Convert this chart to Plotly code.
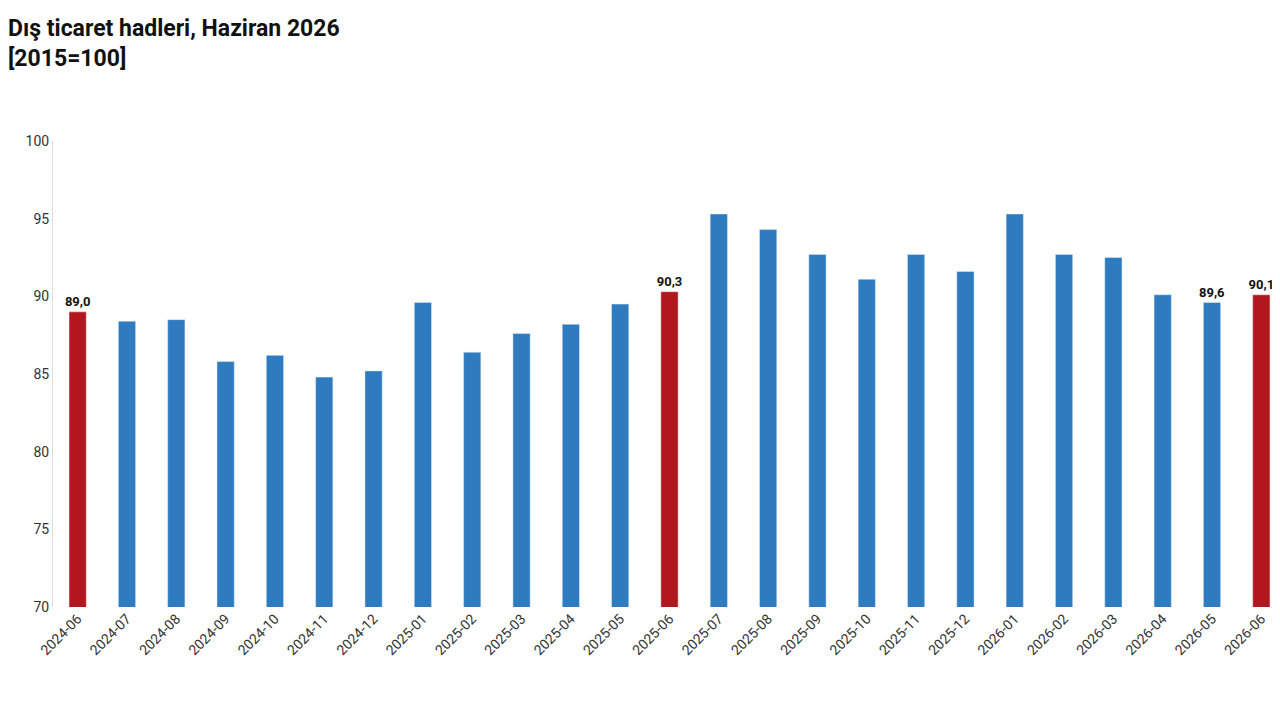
import plotly.graph_objects as go

months = ["2024-06","2024-07","2024-08","2024-09","2024-10","2024-11","2024-12",
          "2025-01","2025-02","2025-03","2025-04","2025-05","2025-06","2025-07",
          "2025-08","2025-09","2025-10","2025-11","2025-12","2026-01","2026-02",
          "2026-03","2026-04","2026-05","2026-06"]
values = [89.0,88.4,88.5,85.8,86.2,84.8,85.2,89.6,86.4,87.6,88.2,89.5,90.3,95.3,
          94.3,92.7,91.1,92.7,91.6,95.3,92.7,92.5,90.1,89.6,90.1]
highlight = {"2024-06","2025-06","2026-06"}
labeled = {"2024-06","2025-06","2026-05","2026-06"}

colors = ["#B0181E" if m in highlight else "#2E7BBF" for m in months]
texts = [f"{v:.1f}".replace(".", ",") if m in labeled else "" for m, v in zip(months, values)]

fig = go.Figure(go.Bar(x=months, y=values, marker_color=colors, text=texts,
                       textposition="outside", cliponaxis=False, constraintext="none",
                       texttemplate="<b>%{text}</b>",
                       textfont=dict(family="Roboto", size=13, color="#111")))
fig.update_layout(
    width=1280, height=720, plot_bgcolor="white", paper_bgcolor="white",
    margin=dict(l=45, r=2, t=133, b=121), bargap=0.65, showlegend=False,
    font=dict(family="Roboto", color="#333"),
    annotations=[dict(text="<b>Dış ticaret hadleri, Haziran 2026<br>[2015=100]</b>",
                      xref="paper", yref="paper", x=-47/1233, y=1+(133-5)/466,
                      xanchor="left", yanchor="top", align="left", showarrow=False,
                      font=dict(family="Roboto", size=23, color="#111"))],
)
fig.update_yaxes(range=[70, 100], dtick=5, showgrid=False, showline=True,
                 linecolor="#ddd", tickfont=dict(size=14), ticks="", zeroline=False)
fig.update_xaxes(type="category", tickangle=-45, showline=False, tickfont=dict(size=14),
                 automargin=False)
fig.write_html("out.html")
